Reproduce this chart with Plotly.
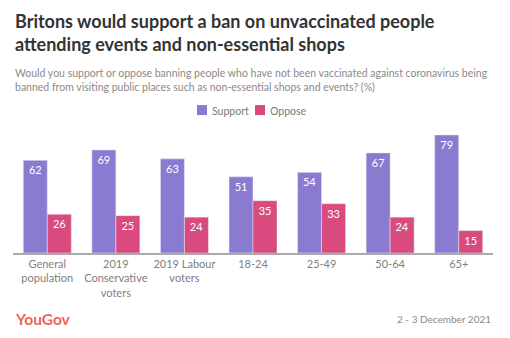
import plotly.graph_objects as go

categories = ["General<br>population", "2019<br>Conservative<br>voters", "2019 Labour<br>voters",
              "18-24", "25-49", "50-64", "65+"]
support = [62, 69, 63, 51, 54, 67, 79]
oppose = [26, 25, 24, 35, 33, 24, 15]
series_names = ["Support", "Oppose"]

W, H = 510, 338
M_L, M_R, M_T, M_B = 13, 17, 126, 84.5
PLOT_W = W - M_L - M_R
PLOT_H = H - M_T - M_B

def py(y_px):
    """Convert a pixel row (from the top) into paper y."""
    return (H - M_B - y_px) / PLOT_H

def px(x_px):
    """Convert a pixel column into paper x."""
    return (x_px - M_L) / PLOT_W

FONT = "Lato"
PURPLE = "#8a7bd1"
PINK = "#d94a7f"
COLORS = [PURPLE, PINK]

fig = go.Figure()
for name, vals, col in zip(series_names, [support, oppose], COLORS):
    fig.add_bar(name=name, x=categories, y=vals, marker_color=col,
                text=vals, textposition="inside", insidetextanchor="end",
                textangle=0, constraintext="none",
                textfont=dict(color="white", size=11, family=FONT))

annotations = [
    dict(text="<b>Britons would support a ban on unvaccinated people<br>attending events and non-essential shops</b>",
         x=0, y=py(8), xanchor="left", yanchor="top", align="left",
         font=dict(size=18, color="#333333", family=FONT)),
    dict(text="Would you support or oppose banning people who have not been vaccinated against coronavirus being<br>"
              "banned from visiting public places such as non-essential shops and events? (%)",
         x=0, y=py(65), xanchor="left", yanchor="top", align="left",
         font=dict(size=10.5, color="#8a8a8a", family=FONT)),
    dict(text="<b>YouGov</b>", x=0, y=py(320), xanchor="left", yanchor="middle",
         font=dict(size=15.5, color="#f0625a", family=FONT)),
    dict(text="2 - 3 December 2021", x=1, y=py(320), xanchor="right", yanchor="middle",
         font=dict(size=10, color="#8a8a8a", family=FONT)),
]

# compact legend: coloured square followed by its label
shapes = []
legend_x = [197, 255]
for name, col, lx in zip(series_names, COLORS, legend_x):
    shapes.append(dict(type="rect", xref="paper", yref="paper",
                       x0=px(lx), x1=px(lx + 10), y0=py(115), y1=py(105),
                       fillcolor=col, line=dict(width=0)))
    annotations.append(dict(text=name, x=px(lx + 13), y=py(110.5), xanchor="left", yanchor="middle",
                            font=dict(size=10.5, color="#7a7a7a", family=FONT)))

for a in annotations:
    a.update(xref="paper", yref="paper", showarrow=False)

fig.update_layout(
    width=W, height=H,
    margin=dict(l=M_L, r=M_R, t=M_T, b=M_B),
    paper_bgcolor="white", plot_bgcolor="white",
    barmode="group", bargap=0.3, bargroupgap=0,
    showlegend=False,
    annotations=annotations,
    shapes=shapes,
    font=dict(family=FONT),
)
fig.update_xaxes(showline=True, linecolor="#aaaaaa", linewidth=1.5, ticks="",
                 tickfont=dict(size=11, color="#808080", family=FONT), fixedrange=True)
fig.update_yaxes(range=[0, 85], visible=False, showgrid=False, fixedrange=True)

fig.write_html("out.html", config={"displayModeBar": False})
